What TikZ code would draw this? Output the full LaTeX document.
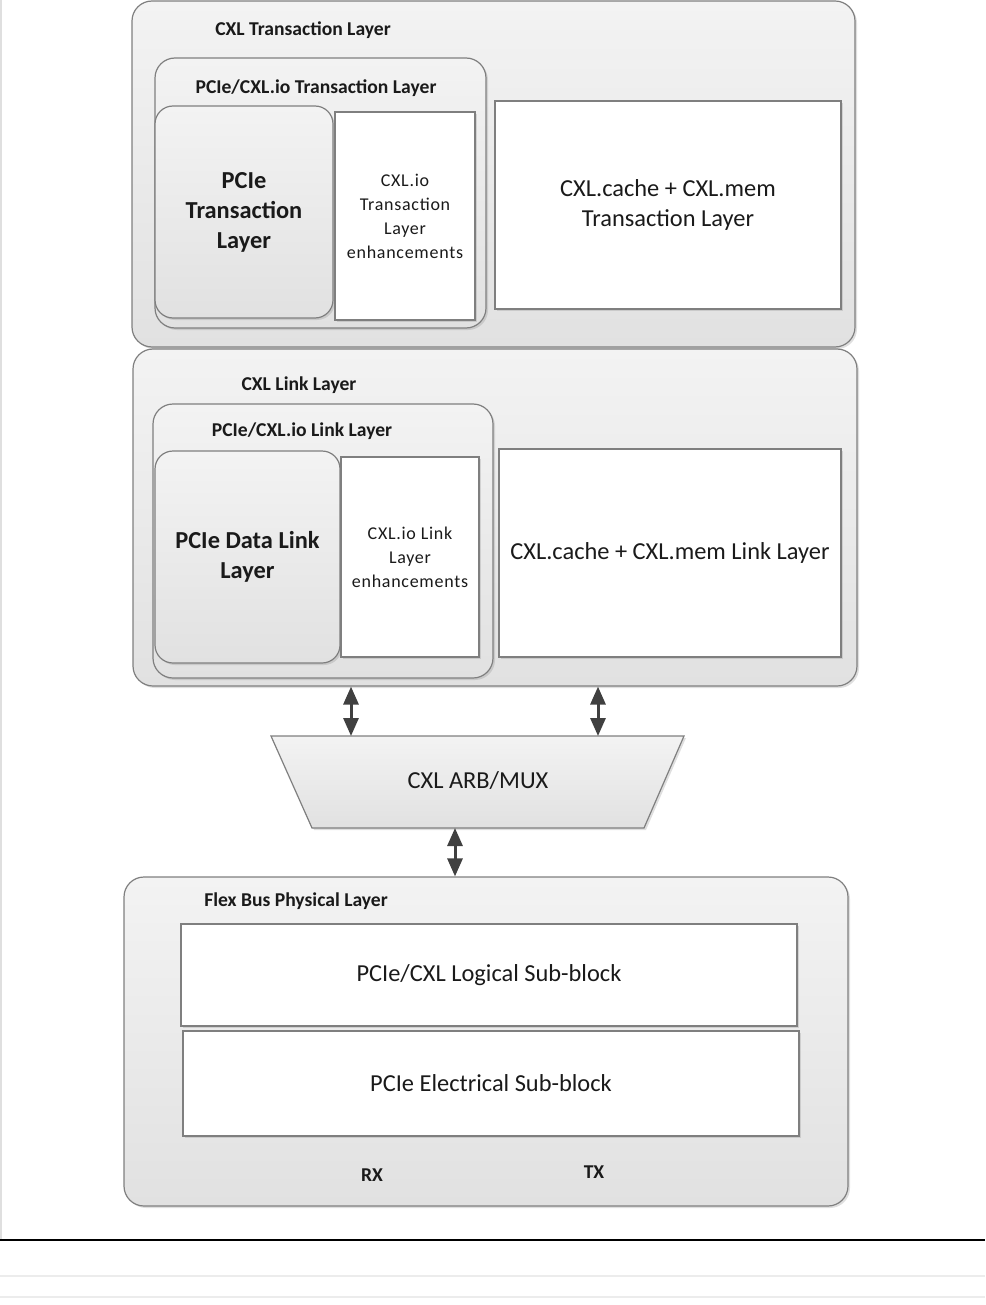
\documentclass[tikz,border=0pt]{standalone}
\usepackage{fontspec}
\setmainfont{Carlito}
\usepackage{xcolor}
\usetikzlibrary{arrows.meta,positioning,shapes,calc,shadows}
\definecolor{ink}{HTML}{1A1A1A}
\definecolor{edge}{HTML}{7F7F7F}
\definecolor{arrowgray}{HTML}{404040}
\definecolor{shadetop}{HTML}{F3F3F3}
\definecolor{shadebot}{HTML}{E1E1E1}
\tikzset{
  layerbox/.style={draw=edge,line width=0.6pt,rounded corners=10pt,
                   top color=shadetop,bottom color=shadebot,
                   drop shadow={shadow xshift=1pt,shadow yshift=-1pt,opacity=0.25},
                   inner sep=0pt},
  corebox/.style={layerbox,rounded corners=9pt},
  plainbox/.style={draw=edge,fill=white,line width=0.6pt,inner sep=0pt,
                   drop shadow={shadow xshift=1pt,shadow yshift=-1pt,opacity=0.25}},
  layertitle/.style={font=\fontsize{9.8}{11}\selectfont\bfseries,text=ink},
  coretext/.style={font=\fontsize{12.2}{15}\selectfont\bfseries,text=ink,align=center},
  enhtext/.style={font=\fontsize{9}{12}\selectfont\addfontfeature{LetterSpace=4},text=ink,align=center},
  maintext/.style={font=\fontsize{12.2}{15}\selectfont,text=ink,align=center},
  duplex/.style={{Triangle[length=9pt,width=7.5pt]}-{Triangle[length=9pt,width=7.5pt]},
                 line width=1.5pt,color=arrowgray}
}
\begin{document}
\begin{tikzpicture}[x=0.5pt,y=-0.5pt]
  \useasboundingbox (0,0) rectangle (985,1305);
  % page frame
  \draw[gray!25,line width=0.6pt] (1,0) -- (1,1239);
  \draw[black,line width=1pt] (0,1240) -- (985,1240);
  \draw[gray!15,line width=0.6pt] (0,1276) -- (985,1276);
  \draw[gray!15,line width=0.6pt] (0,1297) -- (985,1297);

  % transaction layer
  \node[layerbox,minimum width=361.5pt,minimum height=173pt] (txn) at (493.5,174) {};
  \node[layertitle] (txntitle) at (303,30) {CXL Transaction Layer};
  \node[layerbox,minimum width=165.5pt,minimum height=135pt] (iotxn) at (320.5,193) {};
  \node[layertitle] (iotxntitle) at (316,88) {PCIe/CXL.io Transaction Layer};
  \node[corebox,minimum width=89pt,minimum height=106pt] (pcietxn) at (244,212) {};
  \node[coretext] at (pcietxn) {PCIe\\Transaction\\Layer};
  \node[plainbox,minimum width=70pt,minimum height=104pt] (iotxnenh) at (405,216) {};
  \node[enhtext] at (iotxnenh) {CXL.io\\Transaction\\Layer\\enhancements};
  \node[plainbox,minimum width=173pt,minimum height=104pt] (cmtxn) at (668,205) {};
  \node[maintext] at (cmtxn) {CXL.cache + CXL.mem\\Transaction Layer};

  % link layer
  \node[layerbox,minimum width=362pt,minimum height=168.5pt] (link) at (495,517.5) {};
  \node[layertitle] (linktitle) at (299,385) {CXL Link Layer};
  \node[layerbox,minimum width=170pt,minimum height=137pt] (iolink) at (323,541) {};
  \node[layertitle] (iolinktitle) at (302,431) {PCIe/CXL.io Link Layer};
  \node[corebox,minimum width=92.5pt,minimum height=106pt] (dll) at (247.5,557) {};
  \node[coretext] at (dll) {PCIe Data Link\\Layer};
  \node[plainbox,minimum width=69pt,minimum height=100pt] (iolinkenh) at (410,557) {};
  \node[enhtext] at (iolinkenh) {CXL.io Link\\Layer\\enhancements};
  \node[plainbox,minimum width=171pt,minimum height=104pt] (cmlink) at (670,553) {};
  \node[maintext] at (cmlink) {CXL.cache + CXL.mem Link Layer};

  % arb/mux
  \draw[draw=edge,line width=0.6pt,top color=shadetop,bottom color=shadebot,
        drop shadow={shadow xshift=1pt,shadow yshift=-1pt,opacity=0.25}]
    (271,736) -- (684,736) -- (644,828) -- (312,828) -- cycle;
  \node[maintext] (mux) at (478,781) {CXL ARB/MUX};
  \coordinate (muxin1) at (351,736);
  \coordinate (muxin2) at (598,736);
  \coordinate (muxout) at (455,828);

  % physical layer
  \node[layerbox,minimum width=362pt,minimum height=164.5pt] (phy) at (486,1041.5) {};
  \node[layertitle] (phytitle) at (296,901) {Flex Bus Physical Layer};
  \node[plainbox,minimum width=308pt,minimum height=51pt] (logical) at (489,975) {};
  \node[maintext] at (logical) {PCIe/CXL Logical Sub-block};
  \node[plainbox,minimum width=308pt,minimum height=52.5pt] (electrical) at (491,1083.5) {};
  \node[maintext] at (electrical) {PCIe Electrical Sub-block};
  \node[layertitle] (rx) at (372,1175) {RX};
  \node[layertitle] (tx) at (594,1172) {TX};

  % connectors
  \draw[duplex] (link.south -| muxin1) -- (muxin1);
  \draw[duplex] (link.south -| muxin2) -- (muxin2);
  \draw[duplex] (muxout) -- (muxout |- phy.north);
\end{tikzpicture}
\end{document}
